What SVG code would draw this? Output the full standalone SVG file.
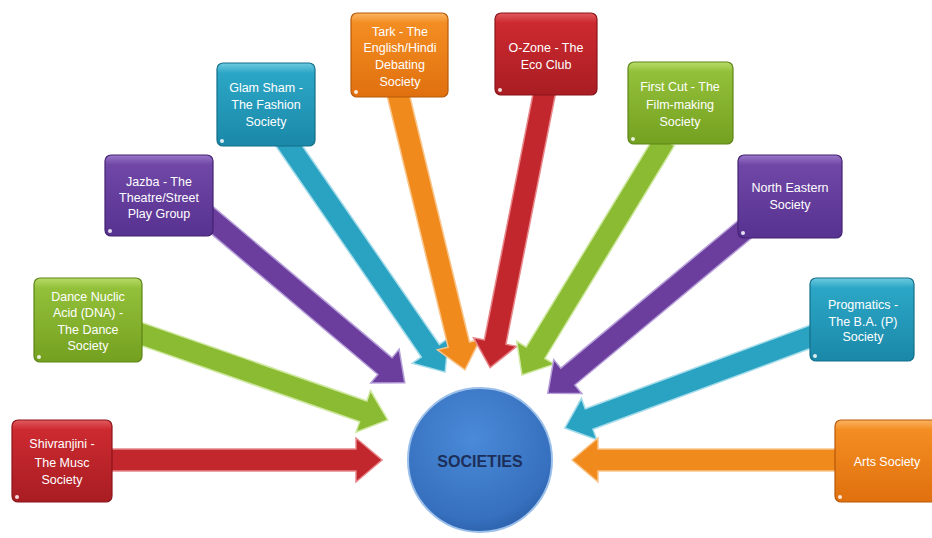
<svg xmlns="http://www.w3.org/2000/svg" width="932" height="538" viewBox="0 0 932 538">
<defs>
<linearGradient id="gRed" x1="0" y1="0" x2="0" y2="1"><stop offset="0" stop-color="#e05a5e"/><stop offset="0.12" stop-color="#cc2a30"/><stop offset="1" stop-color="#a81d23"/></linearGradient>
<linearGradient id="gGreen" x1="0" y1="0" x2="0" y2="1"><stop offset="0" stop-color="#b8dc6a"/><stop offset="0.12" stop-color="#93c03a"/><stop offset="1" stop-color="#74a020"/></linearGradient>
<linearGradient id="gPurple" x1="0" y1="0" x2="0" y2="1"><stop offset="0" stop-color="#9a78c8"/><stop offset="0.12" stop-color="#7047a6"/><stop offset="1" stop-color="#573290"/></linearGradient>
<linearGradient id="gTeal" x1="0" y1="0" x2="0" y2="1"><stop offset="0" stop-color="#6fcbe2"/><stop offset="0.12" stop-color="#2ca6c6"/><stop offset="1" stop-color="#1a88a8"/></linearGradient>
<linearGradient id="gOrange" x1="0" y1="0" x2="0" y2="1"><stop offset="0" stop-color="#fbb462"/><stop offset="0.12" stop-color="#f38d22"/><stop offset="1" stop-color="#e0700e"/></linearGradient>
<radialGradient id="gBlue" cx="0.45" cy="0.35" r="0.7"><stop offset="0" stop-color="#4a8ad8"/><stop offset="0.8" stop-color="#3670be"/><stop offset="1" stop-color="#2a5ea8"/></radialGradient>
</defs>
<style>
.box{stroke-width:1.2;}
.lbl{font-family:"Liberation Sans","Open Sans",Arial,sans-serif;font-size:12.5px;fill:#ffffff;text-anchor:middle;}
.ctr{font-family:"Liberation Sans","Open Sans",Arial,sans-serif;font-size:16px;font-weight:bold;fill:#1c2f5a;text-anchor:middle;}
.dot{fill:#ffffff;opacity:0.85;}
.aR{fill:#c2272d;stroke:#e8868a;stroke-width:1.5;}
.aG{fill:#8bbb32;stroke:#cfe8a0;stroke-width:1.5;}
.aP{fill:#6b3d9d;stroke:#b7a0da;stroke-width:1.5;}
.aT{fill:#2aa2c2;stroke:#a5dcea;stroke-width:1.5;}
.aO{fill:#f08a1c;stroke:#f9c58a;stroke-width:1.5;}
</style>
<g id="connectors">
<path class="aR" transform="translate(100,460) rotate(0)" d="M0,-11 L256,-11 L256,-22 L282,0 L256,22 L256,11 L0,11 Z"/>
<path class="aG" transform="translate(130,330) rotate(19.23)" d="M0,-11 L247,-11 L247,-22 L273,0 L247,22 L247,11 L0,11 Z"/>
<path class="aP" transform="translate(200,210) rotate(40.16)" d="M0,-11 L242,-11 L242,-22 L268,0 L242,22 L242,11 L0,11 Z"/>
<path class="aT" transform="translate(285,140) rotate(55.4)" d="M0,-11 L256,-11 L256,-22 L282,0 L256,22 L256,11 L0,11 Z"/>
<path class="aO" transform="translate(397,90) rotate(76.35)" d="M0,-11 L262,-11 L262,-22 L288,0 L262,22 L262,11 L0,11 Z"/>
<path class="aR" transform="translate(545,90) rotate(101.19)" d="M0,-11 L257,-11 L257,-22 L283,0 L257,22 L257,11 L0,11 Z"/>
<path class="aG" transform="translate(665,140) rotate(121.33)" d="M0,-11 L249,-11 L249,-22 L275,0 L249,22 L249,11 L0,11 Z"/>
<path class="aP" transform="translate(750,225) rotate(140.25)" d="M0,-11 L237,-11 L237,-22 L263,0 L237,22 L237,11 L0,11 Z"/>
<path class="aT" transform="translate(815,335) rotate(159.6)" d="M0,-11 L241,-11 L241,-22 L267,0 L241,22 L241,11 L0,11 Z"/>
<path class="aO" transform="translate(845,460) rotate(180)" d="M0,-11 L247,-11 L247,-22 L273,0 L247,22 L247,11 L0,11 Z"/>
</g>
<g id="center">
<circle cx="480" cy="460" r="72" fill="url(#gBlue)" stroke="#9cc0ea" stroke-width="2"/>
<text class="ctr" x="480" y="467">SOCIETIES</text>
</g>
<g id="n1">
<rect class="box" x="12" y="420" width="100" height="82" rx="6" fill="url(#gRed)" stroke="#8a151a"/>
<circle class="dot" cx="17" cy="497" r="2"/>
<text class="lbl" x="62" y="448">Shivranjini -</text>
<text class="lbl" x="62" y="467">The Musc</text>
<text class="lbl" x="62" y="484">Society</text>
</g>
<g id="n2">
<rect class="box" x="34" y="278" width="108" height="84" rx="6" fill="url(#gGreen)" stroke="#5e8418"/>
<circle class="dot" cx="39" cy="357" r="2"/>
<text class="lbl" x="88" y="301">Dance Nuclic</text>
<text class="lbl" x="88" y="317">Acid (DNA) -</text>
<text class="lbl" x="88" y="334">The Dance</text>
<text class="lbl" x="88" y="350">Society</text>
</g>
<g id="n3">
<rect class="box" x="105" y="155" width="108" height="81" rx="6" fill="url(#gPurple)" stroke="#432272"/>
<circle class="dot" cx="110" cy="231" r="2"/>
<text class="lbl" x="159" y="186">Jazba - The</text>
<text class="lbl" x="159" y="202">Theatre/Street</text>
<text class="lbl" x="159" y="218">Play Group</text>
</g>
<g id="n4">
<rect class="box" x="217" y="63" width="98" height="83" rx="6" fill="url(#gTeal)" stroke="#136f8a"/>
<circle class="dot" cx="222" cy="141" r="2"/>
<text class="lbl" x="266" y="92">Glam Sham -</text>
<text class="lbl" x="266" y="109">The Fashion</text>
<text class="lbl" x="266" y="126">Society</text>
</g>
<g id="n5">
<rect class="box" x="351" y="13" width="97" height="84" rx="6" fill="url(#gOrange)" stroke="#b8590a"/>
<circle class="dot" cx="356" cy="92" r="2"/>
<text class="lbl" x="400" y="36">Tark - The</text>
<text class="lbl" x="400" y="52">English/Hindi</text>
<text class="lbl" x="400" y="69">Debating</text>
<text class="lbl" x="400" y="86">Society</text>
</g>
<g id="n6">
<rect class="box" x="495" y="13" width="102" height="82" rx="6" fill="url(#gRed)" stroke="#8a151a"/>
<circle class="dot" cx="500" cy="90" r="2"/>
<text class="lbl" x="546" y="52">O-Zone - The</text>
<text class="lbl" x="546" y="69">Eco Club</text>
</g>
<g id="n7">
<rect class="box" x="628" y="62" width="105" height="82" rx="6" fill="url(#gGreen)" stroke="#5e8418"/>
<circle class="dot" cx="633" cy="139" r="2"/>
<text class="lbl" x="680" y="91">First Cut - The</text>
<text class="lbl" x="680" y="109">Film-making</text>
<text class="lbl" x="680" y="126">Society</text>
</g>
<g id="n8">
<rect class="box" x="738" y="155" width="104" height="83" rx="6" fill="url(#gPurple)" stroke="#432272"/>
<circle class="dot" cx="743" cy="233" r="2"/>
<text class="lbl" x="790" y="192">North Eastern</text>
<text class="lbl" x="790" y="209">Society</text>
</g>
<g id="n9">
<rect class="box" x="810" y="278" width="104" height="83" rx="6" fill="url(#gTeal)" stroke="#136f8a"/>
<circle class="dot" cx="815" cy="356" r="2"/>
<text class="lbl" x="863" y="309">Progmatics  -</text>
<text class="lbl" x="863" y="326">The B.A. (P)</text>
<text class="lbl" x="863" y="341">Society</text>
</g>
<g id="n10">
<rect class="box" x="835" y="420" width="104" height="82" rx="6" fill="url(#gOrange)" stroke="#b8590a"/>
<circle class="dot" cx="840" cy="497" r="2"/>
<text class="lbl" x="887" y="466">Arts Society</text>
</g>
</svg>
